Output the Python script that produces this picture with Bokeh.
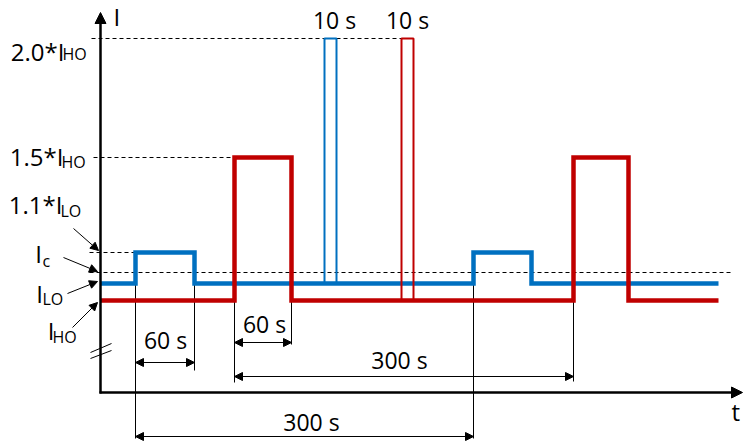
from bokeh.plotting import figure
from bokeh.models import Range1d, Arrow, NormalHead
from bokeh.core.properties import value
from bokeh.embed import file_html
from bokeh.resources import INLINE

# ---- data (schematic units: t from origin, current above t axis) ----
I_HO, I_LO, I_C, I_11LO, I_15HO, I_20HO = 92, 109, 120, 140, 235, 354

blue_t = [0, 35, 35, 94, 94, 373, 373, 431, 431, 618]
blue_i = [I_LO, I_LO, I_11LO, I_11LO, I_LO, I_LO, I_11LO, I_11LO, I_LO, I_LO]
red_t = [0, 134, 134, 191, 191, 473, 473, 528, 528, 618]
red_i = [I_HO, I_HO, I_15HO, I_15HO, I_HO, I_HO, I_15HO, I_15HO, I_HO, I_HO]
blue_pulse_t = [224, 224, 236, 236]
blue_pulse_i = [I_LO, I_20HO, I_20HO, I_LO]
red_pulse_t = [301, 301, 313, 313]
red_pulse_i = [I_HO, I_20HO, I_20HO, I_HO]

dim_start = [35, 134, 134, 35]
dim_end = [94, 191, 473, 373]
dim_labels = ["60 s", "60 s", "300 s", "300 s"]
pulse_labels = ["10 s", "10 s"]

level_main = ["2.0*I", "1.5*I", "1.1*I", "I", "I", "I"]
level_sub = ["HO", "HO", "LO", "c", "LO", "HO"]

BLUE = "#0070C0"
RED = "#C00000"
FONT = value("Open Sans")
DY = 9  # text baseline correction

p = figure(width=749, height=448, output_backend="svg", toolbar_location=None,
           x_range=Range1d(-100, 649), y_range=Range1d(-56, 392),
           x_axis_location=None, y_axis_location=None,
           min_border=0, min_border_left=0, min_border_right=0,
           min_border_top=0, min_border_bottom=0)
p.outline_line_color = None
p.grid.visible = False
p.background_fill_color = "white"

# dashed reference levels
dash_x0 = [-9, -7, -11, -11]
dash_x1 = [red_pulse_t[0], red_t[1], blue_t[1], 630]
dash_y = [I_20HO, I_15HO, I_11LO, I_C]
p.segment(x0=dash_x0, y0=dash_y, x1=dash_x1, y1=dash_y,
          line_color="black", line_width=1, line_dash="4 3")

# extension lines
ext_x = [blue_t[1], blue_t[3], red_t[1], red_t[3], blue_t[5], red_t[5]]
ext_top = [I_LO, I_LO, I_HO, I_HO, I_LO, I_HO]
ext_bot = [-46, 22, 10, 48, -46, 11]
p.segment(x0=ext_x, y0=ext_top, x1=ext_x, y1=ext_bot, line_color="black", line_width=1)

# signals
p.line(blue_t, blue_i, line_color=BLUE, line_width=4.5, line_join="miter")
p.line(blue_pulse_t, blue_pulse_i, line_color=BLUE, line_width=2)
p.line(red_t, red_i, line_color=RED, line_width=4.5, line_join="miter")
p.line(red_pulse_t, red_pulse_i, line_color=RED, line_width=2)

# axes
def head(size):
    return NormalHead(size=size, fill_color="black", line_color="black", line_width=1)

p.add_layout(Arrow(x_start=0, y_start=-1, x_end=0, y_end=380, end=head(11),
                   line_color="black", line_width=2.5))
p.add_layout(Arrow(x_start=-1, y_start=0, x_end=642, y_end=0, end=head(11),
                   line_color="black", line_width=2.5))

# axis break marks
p.segment(x0=[-10, -10], y0=[40, 34], x1=[11, 11], y1=[49, 42], line_color="black", line_width=1)

# dimension arrows
dim_y = [30, 50, 16, -44]
for s, e, y in zip(dim_start, dim_end, dim_y):
    p.add_layout(Arrow(x_start=s, y_start=y, x_end=e, y_end=y, start=head(8), end=head(8),
                       line_color="black", line_width=1))

# label pointer arrows
ptr = [(-27, 164, -2, 142), (-37, 135, -3, 121), (-33, 99, -3, 111), (-28, 65, -3, 90)]
for xs, ys, xe, ye in ptr:
    p.add_layout(Arrow(x_start=xs, y_start=ys, x_end=xe, y_end=ye, end=head(8),
                       line_color="black", line_width=1))

def shift(vals):
    return [v + DY for v in vals]

# dimension texts
p.text(x=[65, 164, 299, 211], y=shift([44, 60, 24, -38]), text=dim_labels,
       text_font=FONT, text_font_size=value("23px"), text_align="center",
       text_baseline="alphabetic", text_color="black")
p.text(x=[234, 307], y=shift([364, 364]), text=pulse_labels,
       text_font=FONT, text_font_size=value("23px"), text_align="center",
       text_baseline="alphabetic", text_color="black")

# level labels
p.text(x=[-36, -37, -38, -58.5, -57.5, -46], y=shift([332, 227, 179, 130, 90, 53]), text=level_main,
       text_font=FONT, text_font_size=value("24px"), text_align="right",
       text_baseline="alphabetic", text_color="black")
p.text(x=[-38, -39, -40, -58, -58, -48], y=shift([330, 222, 173, 123, 85, 47]), text=level_sub,
       text_font=FONT, text_font_size=value("16px"), text_align="left",
       text_baseline="alphabetic", text_color="black")

# axis titles
p.text(x=[13, 631], y=shift([367, -28]), text=["I", "t"],
       text_font=FONT, text_font_size=value("24px"), text_align="left",
       text_baseline="alphabetic", text_color="black")

open("out.html", "w").write(file_html(p, INLINE))
